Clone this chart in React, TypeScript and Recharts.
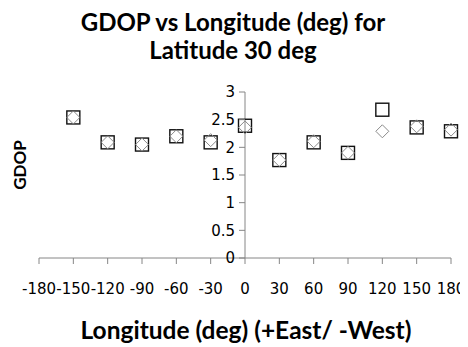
import React from 'react';
import { ScatterChart, Scatter, XAxis, YAxis, ReferenceLine } from 'recharts';

// longitude (deg) and GDOP
const longitudes = [-150, -120, -90, -60, -30, 0, 30, 60, 90, 120, 150, 180];
const gdopSquare = [2.54, 2.09, 2.05, 2.2, 2.09, 2.39, 1.77, 2.09, 1.9, 2.68, 2.36, 2.29];
const gdopDiamond = [2.54, 2.09, 2.05, 2.2, 2.13, 2.36, 1.77, 2.11, 1.9, 2.29, 2.38, 2.32];

const xTicks = [-180, -150, -120, -90, -60, -30, 0, 30, 60, 90, 120, 150, 180];
const yTicks = [0, 0.5, 1, 1.5, 2, 2.5, 3];

const W = 460;
const H = 339;
const PLOT_LEFT = 31;
const PLOT_W = 412;
const AXIS_X = PLOT_LEFT + PLOT_W / 2; // y axis crosses at longitude 0
const GRAY = '#868686';
const TICK_FONT = '"DejaVu Sans", sans-serif';
const TITLE_FONT = 'Lato, "Open Sans", sans-serif';

const squareData = longitudes.map((x, i) => ({ x, y: gdopSquare[i] }));
const diamondData = longitudes.map((x, i) => ({ x, y: gdopDiamond[i] }));

const SquareMark = (props: any) => {
    const { cx, cy } = props;
    return <rect x={cx - 6.5} y={cy - 6.5} width={13} height={13} fill="none" stroke="#111" strokeWidth={1.4} />;
};

const DiamondMark = (props: any) => {
    const { cx, cy } = props;
    const r = 6.5;
    return (
        <polygon
            points={`${cx},${cy - r} ${cx + r},${cy} ${cx},${cy + r} ${cx - r},${cy}`}
            fill="none"
            stroke="#8a8a8a"
            strokeWidth={1}
        />
    );
};

const YTick = (props: any) => {
    const { y, payload } = props;
    return (
        <g>
            <line x1={AXIS_X - 6} x2={AXIS_X} y1={y} y2={y} stroke={GRAY} />
            <text x={AXIS_X - 10} y={y} dy="0.36em" textAnchor="end" fill="#000" fontSize={15} fontFamily={TICK_FONT}>
                {String(payload.value)}
            </text>
        </g>
    );
};

const App = (): JSX.Element => {
    return (
        <div style={{ position: 'relative', width: W, height: H }}>
            <div
                style={{
                    position: 'absolute', left: 0, top: 0, width: 450, textAlign: 'center',
                    fontFamily: TITLE_FONT, fontWeight: 700, fontSize: 24, lineHeight: '28px', color: '#000',
                }}
            >
                GDOP vs Longitude (deg) for<br />Latitude 30 deg
            </div>
            <ScatterChart width={W} height={H} margin={{ top: 84, right: 17, bottom: 49, left: PLOT_LEFT - 1 }}>
                <XAxis
                    dataKey="x"
                    type="number"
                    domain={[-180, 180]}
                    ticks={xTicks}
                    interval={0}
                    height={40}
                    tickSize={6}
                    tickMargin={19}
                    axisLine={{ stroke: GRAY }}
                    tickLine={{ stroke: GRAY }}
                    tick={{ fill: '#000', fontSize: 15, fontFamily: TICK_FONT }}
                />
                <YAxis
                    dataKey="y"
                    type="number"
                    domain={[0, 3]}
                    ticks={yTicks}
                    interval={0}
                    width={1}
                    axisLine={false}
                    tickLine={false}
                    tick={<YTick />}
                />
                <ReferenceLine x={0} stroke={GRAY} />
                <Scatter data={squareData} shape={<SquareMark />} isAnimationActive={false} />
                <Scatter data={diamondData} shape={<DiamondMark />} isAnimationActive={false} />
            </ScatterChart>
            <div
                style={{
                    position: 'absolute', left: 12, top: 149, width: 60, height: 16, marginLeft: -30,
                    textAlign: 'center', transform: 'rotate(-90deg)',
                    fontFamily: TITLE_FONT, fontWeight: 700, fontSize: 17, lineHeight: '16px', color: '#000',
                }}
            >
                GDOP
            </div>
            <div
                style={{
                    position: 'absolute', left: 38, top: 308, width: 400, textAlign: 'center',
                    fontFamily: TITLE_FONT, fontWeight: 700, fontSize: 24.5, lineHeight: '28px', color: '#000',
                    whiteSpace: 'nowrap',
                }}
            >
                Longitude (deg) (+East/ -West)
            </div>
        </div>
    );
};

export default App;
